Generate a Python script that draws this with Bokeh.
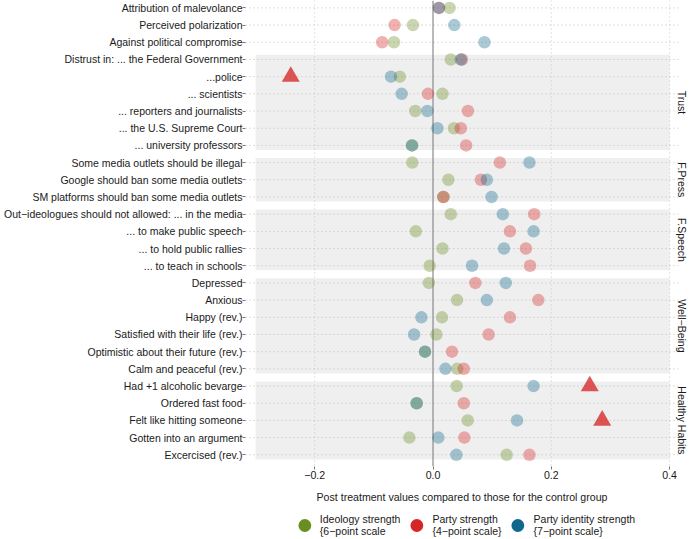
import numpy as np
from bokeh.plotting import figure
from bokeh.layouts import column
from bokeh.models import Range1d, FixedTicker, Legend, LegendItem, LinearAxis
from bokeh.embed import file_html
from bokeh.resources import INLINE

labels = [
    "Attribution of malevolance", "Perceived polarization", "Against political compromise",
    "Distrust in: ... the Federal Government", "...police", "... scientists",
    "... reporters and journalists", "... the U.S. Supreme Court", "... university professors",
    "Some media outlets should be illegal", "Google should ban some media outlets",
    "SM platforms should ban some media outlets",
    "Out\u2212ideologues should not allowed: ... in the media", "... to make public speech",
    "... to hold public rallies", "... to teach in schools",
    "Depressed", "Anxious", "Happy (rev.)", "Satisfied with their life (rev.)",
    "Optimistic about their future (rev.)", "Calm and peaceful (rev.)",
    "Had +1 alcoholic bevarge", "Ordered fast food", "Felt like hitting someone",
    "Gotten into an argument", "Excercised (rev.)",
]
groups = ([""] * 3 + ["Trust"] * 6 + ["F.Press"] * 3 + ["F.Speech"] * 4
          + ["Well\u2212Being"] * 6 + ["Healthy Habits"] * 5)

ideology = [0.028, -0.034, -0.066, 0.030, -0.056, 0.016, -0.030, 0.0355, -0.0355,
            -0.035, 0.026, 0.0175, 0.030, -0.029, 0.016, -0.0056, -0.007, 0.0406,
            0.0152, 0.0057, -0.0135, 0.041, 0.040, -0.0276, 0.0587, -0.040, 0.1245]
party = [0.010, -0.065, -0.086, 0.049, -0.2405, -0.0085, 0.059, 0.047, 0.056,
         0.113, 0.081, 0.0175, 0.171, 0.130, 0.157, 0.164, 0.0716, 0.178,
         0.130, 0.094, 0.032, 0.052, 0.265, 0.052, 0.286, 0.053, 0.163]
party_id = [0.010, 0.036, 0.087, 0.047, -0.071, -0.053, -0.0095, 0.0074, -0.0355,
            0.163, 0.091, 0.099, 0.118, 0.170, 0.120, 0.066, 0.123, 0.091,
            -0.0196, -0.032, -0.0135, 0.021, 0.170, -0.0276, 0.142, 0.009, 0.0395]
party_flag = [False, False, False, False, True, False, False, False, False,
              False, False, False, False, False, False, False, False, False,
              False, False, False, False, True, False, True, False, False]

x_ticks = [-0.2, 0.0, 0.2, 0.4]
x_tick_labels = ["\u22120.2", "0.0", "0.2", "0.4"]
band_x = [-0.3, 0.4]
series_names = ["Ideology strength\n{6\u2212point scale", "Party strength\n{4\u2212point scale}",
                "Party identity strength\n{7\u2212point scale}"]
colors = ["#6b8e23", "#d62728", "#10688c"]

FONT = "Liberation Sans"
FS = "10.6px"
TXT = "#1a1a1a"
n = len(labels)
rows = list(range(1, n + 1))
x0, x1 = -0.317, 0.415
y_top, y_bot = 0.57, 27.68

p = figure(width=690, height=505, output_backend="svg", toolbar_location=None,
           x_range=Range1d(x0, x1), y_range=Range1d(y_bot, y_top),
           min_border_left=245, min_border_right=12, min_border_top=0, min_border_bottom=0)
p.outline_line_color = None
p.xgrid.visible = False
p.ygrid.visible = False

# group bands
gnames = []
for g in groups:
    if g and g not in gnames:
        gnames.append(g)
bt, bb, bmid = [], [], []
for g in gnames:
    idx = [r for r, gg in zip(rows, groups) if gg == g]
    bt.append(min(idx) - 0.27)
    bb.append(max(idx) + 0.27)
    bmid.append((min(idx) + max(idx)) / 2)
p.quad(left=band_x[0], right=band_x[1], top=bt, bottom=bb, fill_color="#efefef", line_color=None)

# grid lines
p.segment(x0=[x0] * n, x1=[x1] * n, y0=rows, y1=rows, line_color="#bdbdbd",
          line_dash="1 3", line_width=1)
vx = [t for t in x_ticks if t != 0]
p.segment(x0=vx, x1=vx, y0=[y_top] * len(vx), y1=[y_bot] * len(vx), line_color="#c8c8c8",
          line_dash="1 3", line_width=1)
p.segment(x0=[0], x1=[0], y0=[y_top], y1=[y_bot], line_color="#8a8a8a", line_width=1.2)

# points
ALPHA = 0.36
p.scatter(ideology, rows, size=12.5, color=colors[0], alpha=ALPHA, line_color=None)
pr_x = [v for v, f in zip(party, party_flag) if not f]
pr_y = [r for r, f in zip(rows, party_flag) if not f]
p.scatter(pr_x, pr_y, size=12.5, color=colors[1], alpha=ALPHA, line_color=None)
p.scatter(party_id, rows, size=12.5, color=colors[2], alpha=ALPHA, line_color=None)
tr_x = [v for v, f in zip(party, party_flag) if f]
tr_y = [r for r, f in zip(rows, party_flag) if f]
p.scatter(tr_x, tr_y, marker="triangle", size=18, color=colors[1], alpha=0.78, line_color=None)

# strip labels as a right-hand axis
strip = LinearAxis(ticker=FixedTicker(ticks=bmid),
                   major_label_overrides={m: g for m, g in zip(bmid, gnames)},
                   major_label_orientation="parallel", axis_line_color=None,
                   major_tick_line_color=None, minor_tick_line_color=None,
                   major_tick_out=0, major_tick_in=0, major_label_standoff=-3,
                   major_label_text_font=FONT, major_label_text_font_size="10.5px",
                   major_label_text_color=TXT)
p.add_layout(strip, "right")

# axes
p.yaxis[0].ticker = FixedTicker(ticks=rows)
p.yaxis[0].major_label_overrides = {r: lab for r, lab in zip(rows, labels)}
p.yaxis[0].axis_line_color = None
p.yaxis[0].major_tick_line_color = "#777777"
p.yaxis[0].major_tick_out = 3
p.yaxis[0].major_tick_in = 0
p.yaxis[0].minor_tick_line_color = None
p.yaxis[0].major_label_standoff = 0
p.yaxis[0].major_label_text_font = FONT
p.yaxis[0].major_label_text_font_size = "10.5px"
p.yaxis[0].major_label_text_color = TXT

p.xaxis.ticker = FixedTicker(ticks=x_ticks)
p.xaxis.major_label_overrides = {t: l for t, l in zip(x_ticks, x_tick_labels)}
p.xaxis.axis_line_color = None
p.xaxis.major_tick_line_color = "#777777"
p.xaxis.major_tick_out = 3
p.xaxis.major_tick_in = 0
p.xaxis.minor_tick_line_color = None
p.xaxis.major_label_standoff = 1
p.xaxis.major_label_text_font = FONT
p.xaxis.major_label_text_font_size = FS
p.xaxis.major_label_text_color = TXT
p.xaxis.axis_label = "Post treatment values compared to those for the control group"
p.xaxis.axis_label_text_font = FONT
p.xaxis.axis_label_text_font_size = FS
p.xaxis.axis_label_text_font_style = "normal"
p.xaxis.axis_label_text_color = TXT
p.xaxis.axis_label_standoff = 9

# legend (separate strip below the chart)
lf = figure(width=690, height=34, output_backend="svg", toolbar_location=None,
            x_range=Range1d(0, 1), y_range=Range1d(0, 1),
            min_border_left=245, min_border_right=12, min_border_top=6, min_border_bottom=0,
            outline_line_color=None)
lf.axis.visible = False
lf.grid.visible = False
items = []
for name, c in zip(series_names, colors):
    r = lf.scatter([-5], [-5], size=14, color=c, line_color=None)
    items.append(LegendItem(label=name, renderers=[r]))
leg = Legend(items=items, orientation="horizontal", location="center",
             border_line_color=None, background_fill_alpha=0,
             label_text_font=FONT, label_text_font_size="10.5px", label_text_color=TXT,
             label_text_line_height=1.05, glyph_width=32, glyph_height=32,
             spacing=0, padding=0, margin=0, label_standoff=-1)
lf.add_layout(leg, "center")

open("out.html", "w").write(file_html(column(p, lf, spacing=0), INLINE))
